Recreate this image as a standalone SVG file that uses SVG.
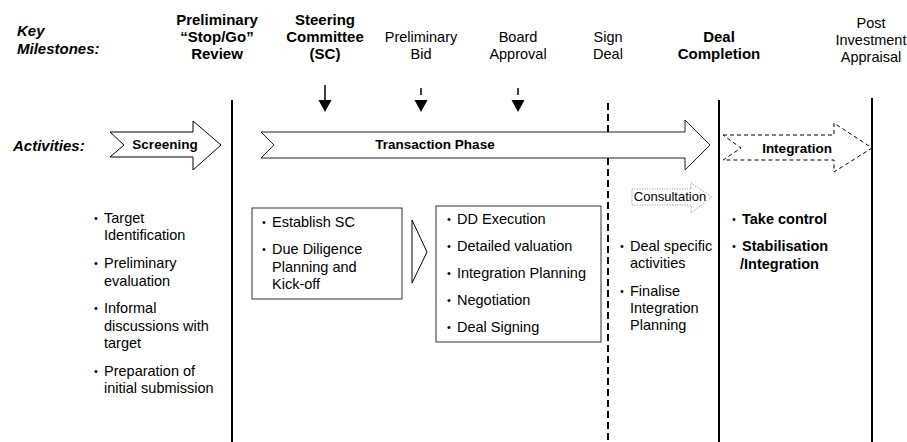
<svg xmlns="http://www.w3.org/2000/svg" width="907" height="442" viewBox="0 0 907 442">
<style>
text{font-family:"Liberation Sans",Arial,sans-serif;fill:#000}
.h{font-size:14.5px;text-anchor:middle}
.hb{font-size:15px;font-weight:bold;text-anchor:middle}
.lbl{font-size:15px;font-weight:bold;font-style:italic}
.t{font-size:14.5px}
.tb{font-size:14.5px;font-weight:bold}
.b{font-size:11px}
.ar{font-size:13.5px;font-weight:bold;text-anchor:middle}
.vl{stroke:#000;stroke-width:2;fill:none}
.box{fill:#fff;stroke:#333;stroke-width:1}
.ms{stroke:#000;stroke-width:1.5}
.tip{fill:#000}
</style>
<rect width="907" height="442" fill="#fff"/>

<g id="labels">
<text class="lbl" x="17" y="36">Key</text>
<text class="lbl" x="17" y="54">Milestones:</text>
<text class="lbl" x="13" y="151">Activities:</text>
</g>

<g id="milestones">
<g id="m-stopgo"><text class="hb" x="217" y="25">Preliminary</text><text class="hb" x="217" y="42">“Stop/Go”</text><text class="hb" x="217" y="59">Review</text></g>
<g id="m-sc"><text class="hb" x="325" y="25">Steering</text><text class="hb" x="325" y="42">Committee</text><text class="hb" x="325" y="59">(SC)</text></g>
<g id="m-bid"><text class="h" x="421" y="42">Preliminary</text><text class="h" x="421" y="59">Bid</text></g>
<g id="m-board"><text class="h" x="518" y="42">Board</text><text class="h" x="518" y="59">Approval</text></g>
<g id="m-sign"><text class="h" x="608" y="42">Sign</text><text class="h" x="608" y="59">Deal</text></g>
<g id="m-completion"><text class="hb" x="719" y="42">Deal</text><text class="hb" x="719" y="59">Completion</text></g>
<g id="m-post"><text class="h" x="871" y="28">Post</text><text class="h" x="871" y="45">Investment</text><text class="h" x="871" y="62">Appraisal</text></g>
</g>

<g id="connectors">
<line class="vl" x1="232" y1="100" x2="232" y2="442"/>
<line class="vl" x1="608" y1="103" x2="608" y2="442" stroke-dasharray="7,4"/>
<line class="vl" x1="719" y1="100" x2="719" y2="442"/>
<line class="vl" x1="872" y1="98" x2="872" y2="442"/>
<line class="ms" x1="325" y1="85" x2="325" y2="101"/>
<polygon class="tip" points="318.5,100 331.5,100 325,112"/>
<line class="ms" x1="421" y1="88" x2="421" y2="95"/>
<polygon class="tip" points="414.5,100 427.5,100 421,112"/>
<line class="ms" x1="518" y1="88" x2="518" y2="95"/>
<polygon class="tip" points="511.5,100 524.5,100 518,112"/>
<polygon points="412,220 427,252 412,283" fill="#fff" stroke="#000" stroke-width="1"/>
</g>

<g id="screening">
<polygon points="110,132 193,132 193,121 221,145 193,170 193,157 110,157 124,145" fill="#fff" stroke="#000" stroke-width="1"/>
<text class="ar" x="165" y="149">Screening</text>
</g>

<g id="transaction">
<polygon points="261,132 685,132 685,120 710,145 685,170 685,158 261,158 274,145" fill="#fff" stroke="#222" stroke-width="1"/>
<text class="ar" x="435" y="149">Transaction Phase</text>
</g>

<g id="integration">
<polygon points="723,135 834,135 834,123 872,148 834,172 834,160 723,160 741,148" fill="#fff" stroke="#000" stroke-width="1" stroke-dasharray="4,3"/>
<text class="ar" x="797" y="153">Integration</text>
</g>

<g id="consultation">
<polygon points="632,189 691,189 691,183 712,197 691,213 691,205 632,205" fill="#fff" stroke="#888" stroke-width="1" stroke-dasharray="1,1.5"/>
<text x="670" y="201" font-size="13" text-anchor="middle">Consultation</text>
</g>

<g id="screening-list">
<text class="b" x="94" y="221.5">•</text><text class="t" x="104" y="223">Target</text>
<text class="t" x="104" y="240">Identification</text>
<text class="b" x="94" y="266.5">•</text><text class="t" x="104" y="268">Preliminary</text>
<text class="t" x="104" y="286">evaluation</text>
<text class="b" x="94" y="311.5">•</text><text class="t" x="104" y="313">Informal</text>
<text class="t" x="104" y="331">discussions with</text>
<text class="t" x="104" y="348">target</text>
<text class="b" x="94" y="374.5">•</text><text class="t" x="104" y="376">Preparation of</text>
<text class="t" x="104" y="393">initial submission</text>
</g>

<g id="sc-box">
<rect class="box" x="252" y="208" width="150" height="91"/>
<text class="b" x="262" y="225.5">•</text><text class="t" x="272" y="227">Establish SC</text>
<text class="b" x="262" y="252.5">•</text><text class="t" x="272" y="254">Due Diligence</text>
<text class="t" x="272" y="272">Planning and</text>
<text class="t" x="272" y="289">Kick-off</text>
</g>

<g id="dd-box">
<rect class="box" x="436" y="206" width="165" height="136"/>
<text class="b" x="447" y="222.5">•</text><text class="t" x="457" y="224">DD Execution</text>
<text class="b" x="447" y="249.5">•</text><text class="t" x="457" y="251">Detailed valuation</text>
<text class="b" x="447" y="276.5">•</text><text class="t" x="457" y="278">Integration Planning</text>
<text class="b" x="447" y="303.5">•</text><text class="t" x="457" y="305">Negotiation</text>
<text class="b" x="447" y="330.5">•</text><text class="t" x="457" y="332">Deal Signing</text>
</g>

<g id="deal-list">
<text class="b" x="620" y="249.5">•</text><text class="t" x="630" y="251">Deal specific</text>
<text class="t" x="630" y="268">activities</text>
<text class="b" x="620" y="294.5">•</text><text class="t" x="630" y="296">Finalise</text>
<text class="t" x="630" y="313">Integration</text>
<text class="t" x="630" y="330">Planning</text>
</g>

<g id="integration-list">
<text class="b" x="732" y="222.5">•</text><text class="tb" x="742" y="224">Take control</text>
<text class="b" x="732" y="249.5">•</text><text class="tb" x="742" y="251">Stabilisation</text>
<text class="tb" x="740" y="269">/Integration</text>
</g>
</svg>
